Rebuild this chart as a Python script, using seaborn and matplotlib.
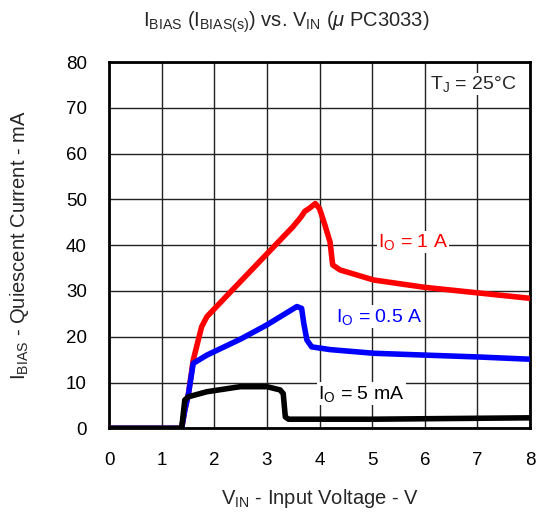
import matplotlib
matplotlib.use("Agg")
import matplotlib.pyplot as plt
import seaborn as sns
import pandas as pd

# Data
red_x = [0.0, 1.38, 1.44, 1.51, 1.60, 1.76, 1.86, 2.5, 3.0, 3.5, 3.65, 3.72, 3.80, 3.92, 4.00, 4.10, 4.20, 4.25, 4.39, 5.03, 6.0, 7.0, 8.0]
red_y = [0.0, 0.0, 4.0, 7.6, 14.9, 22.2, 24.4, 32.1, 38.1, 44.1, 46.2, 47.4, 48.0, 49.1, 48.0, 44.5, 40.7, 35.7, 34.6, 32.4, 30.8, 29.6, 28.4]
blue_x = [0.0, 1.38, 1.44, 1.51, 1.60, 1.86, 2.5, 3.0, 3.57, 3.66, 3.70, 3.76, 3.85, 4.2, 5.03, 6.0, 7.0, 8.0]
blue_y = [0.0, 0.0, 4.0, 7.6, 14.2, 16.0, 19.5, 22.6, 26.6, 26.2, 23.0, 19.3, 17.8, 17.2, 16.4, 16.0, 15.6, 15.1]
black_x = [0.0, 1.38, 1.44, 1.51, 1.86, 2.49, 3.0, 3.25, 3.31, 3.35, 3.41, 5.04, 6.0, 7.0, 8.0]
black_y = [0.0, 0.0, 6.2, 6.9, 8.0, 9.1, 9.1, 8.4, 7.6, 2.5, 2.0, 2.0, 2.1, 2.2, 2.3]

x_ticks = [0, 1, 2, 3, 4, 5, 6, 7, 8]
y_ticks = [0, 10, 20, 30, 40, 50, 60, 70, 80]

sns.set_style("white")
plt.rcParams['font.family'] = ['Liberation Sans', 'DejaVu Sans']
plt.rcParams['mathtext.fontset'] = 'custom'
plt.rcParams['mathtext.rm'] = 'Liberation Sans'
plt.rcParams['mathtext.it'] = 'Liberation Sans:italic'

fig = plt.figure(figsize=(5.39, 5.13), dpi=100)
ax = fig.add_axes([0.2023, 0.165, 0.781, 0.714])

df = pd.concat([
    pd.DataFrame({"x": red_x, "y": red_y, "s": "1 A"}),
    pd.DataFrame({"x": blue_x, "y": blue_y, "s": "0.5 A"}),
    pd.DataFrame({"x": black_x, "y": black_y, "s": "5 mA"}),
])
palette = {"1 A": "#ff0000", "0.5 A": "#0000ff", "5 mA": "#000000"}
sns.lineplot(data=df, x="x", y="y", hue="s", palette=palette, sort=False,
             estimator=None, lw=4, ax=ax, legend=False, zorder=3)

ax.set_xlim(0, 8)
ax.set_ylim(0, 80)
ax.set_xticks(x_ticks)
ax.set_yticks(y_ticks)
ax.grid(True, color="#222222", lw=1.0, zorder=0)
ax.set_axisbelow(True)
for sp in ax.spines.values():
    sp.set_color("black")
    sp.set_linewidth(2)
ax.tick_params(axis="both", labelsize=13.5, length=0, colors="black")
ax.tick_params(axis="x", pad=17)
ax.tick_params(axis="y", pad=16)

ax.set_xlabel(r"V$_{\mathregular{IN}}$ - Input Voltage - V", fontsize=14.5, labelpad=13)
ax.set_ylabel(r"I$_{\mathregular{BIAS}}$ - Quiescent Current - mA", fontsize=14.5, labelpad=25)
fig.text(0.531, 0.957, r"I$_{\mathregular{BIAS}}$ (I$_{\mathregular{BIAS(s)}}$) vs. V$_{\mathregular{IN}}$ ($\mathit{\mu}$ PC3033)",
         ha="center", va="center", fontsize=14.5)

box = dict(facecolor="white", edgecolor="none", pad=1)
ax.text(7.74, 75.2, r"T$_{\mathregular{J}}$ = 25°C", ha="right", va="center", fontsize=14, bbox=box, zorder=4)
ax.text(5.11, 40.7, r"I$_{\mathregular{O}}$ = 1 A", ha="left", va="center", fontsize=14, color="#ff0000", bbox=box, zorder=4)
ax.text(4.32, 24.4, r"I$_{\mathregular{O}}$ = 0.5 A", ha="left", va="center", fontsize=14, color="#0000ff", bbox=box, zorder=4)
ax.text(3.97, 7.6, r"I$_{\mathregular{O}}$ = 5 mA", ha="left", va="center", fontsize=14, color="black", bbox=box, zorder=4)

fig.savefig("out.png", dpi=100)
